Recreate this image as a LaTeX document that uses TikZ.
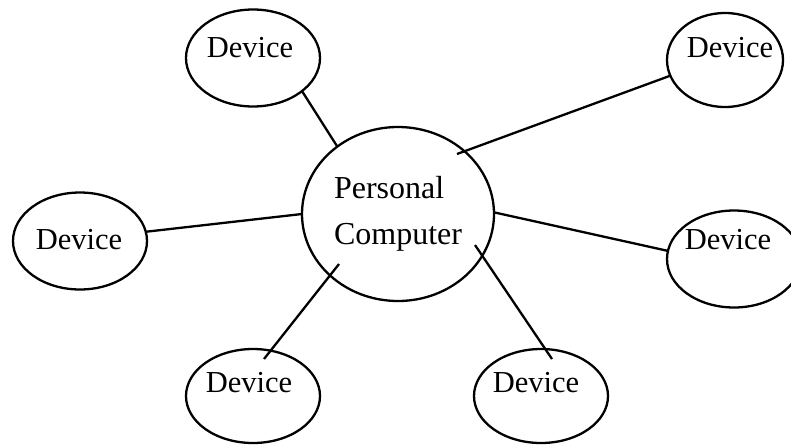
\documentclass[tikz,border=0pt]{standalone}
\usepackage{fontspec}
\setmainfont{Liberation Serif}
\usetikzlibrary{shapes.geometric}

\begin{document}
\begin{tikzpicture}[x=1pt, y=-1pt,
    dev/.style={
      ellipse, draw, line width=2.3pt, outer sep=0pt,
      minimum width=134pt, minimum height=97pt
    },
    devtxt/.style={inner sep=0pt, font=\fontsize{30.5}{36}\selectfont},
    hub/.style={
      ellipse, draw, line width=2.3pt, outer sep=0pt, inner sep=0pt,
      minimum width=192pt, minimum height=174pt,
      align=left, font=\fontsize{32}{46}\selectfont
    },
    link/.style={line width=2.3pt}
  ]
    \useasboundingbox (0,0) rectangle (791,445);
    \clip (0,0) rectangle (791,445);

    % the computer in the middle
    \node[hub] (pc) at (398,214) {Personal\\Computer};

    % devices round it
    \node[dev] (tl) at (253,58) {};
    \node[dev, minimum width=116pt, minimum height=94pt] (tr) at (725,60) {};
    \node[dev] (lf) at (80,241) {};
    \node[dev] (rt) at (734,259) {};
    \node[dev, minimum height=94pt] (bl) at (253,396) {};
    \node[dev, minimum height=94pt] (br) at (541,396) {};

    \node[devtxt] (tl-txt) at (250,48)  {Device};
    \node[devtxt] (tr-txt) at (730,48)  {Device};
    \node[devtxt] (lf-txt) at (79,240)  {Device};
    \node[devtxt] (rt-txt) at (728,240) {Device};
    \node[devtxt] (bl-txt) at (249,383) {Device};
    \node[devtxt] (br-txt) at (536,383) {Device};

    % spoke ends that sit inside the ellipses
    \coordinate (pc-tr) at (457,154);
    \coordinate (pc-bl) at (339,264);
    \coordinate (pc-br) at (475,245);
    \coordinate (bl-in) at (264,359);
    \coordinate (br-in) at (552,359);

    \draw[link] (tl.-34)  -- (pc.132);
    \draw[link] (pc-tr)   -- (tr.196);
    \draw[link] (lf.8)    -- (pc.180);
    \draw[link] (pc.1)    -- (rt.173);
    \draw[link] (pc-bl)   -- (bl-in);
    \draw[link] (pc-br)   -- (br-in);
  \end{tikzpicture}
\end{document}
